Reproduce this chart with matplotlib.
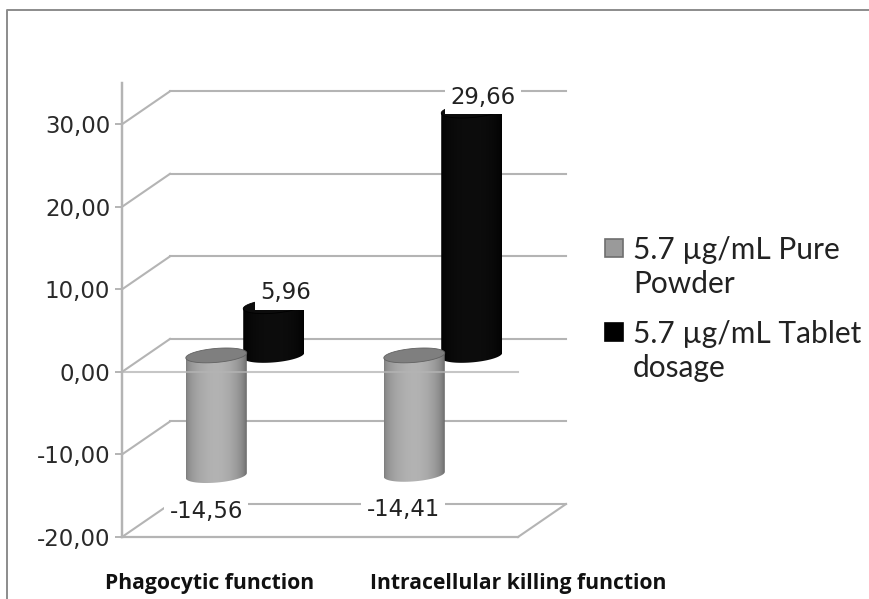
import numpy as np
import matplotlib
matplotlib.use("Agg")
import matplotlib.pyplot as plt
from matplotlib.lines import Line2D
from matplotlib.patches import Polygon, Rectangle
from matplotlib.transforms import Affine2D

categories = ['Phagocytic function', 'Intracellular killing function']
series_names = ['5.7 µg/mL Pure\nPowder', '5.7 µg/mL Tablet\ndosage']
pure_powder = [-14.56, -14.41]
tablet = [5.96, 29.66]
pure_labels = ['-14,56', '-14,41']
tablet_labels = ['5,96', '29,66']
y_ticks = [-20, -10, 0, 10, 20, 30]
y_tick_labels = ['-20,00', '-10,00', '0,00', '10,00', '20,00', '30,00']

W, H = 869, 599
DEPTH = (48, 33)
GRID = '#b4b4b4'


def gradient(left, mid, right):
  # horizontal shading of a cylinder body, a bit darker on the right
  t = np.linspace(0, 1, 128)
  k = np.sin(np.pi * t) ** 0.5
  left, mid, right = np.array(left), np.array(mid), np.array(right)
  return np.array([(left if s < 0.5 else right) * (1 - a) + mid * a for s, a in zip(t, k)])[None, :, :]


def cylinder(ax, x, val, shades, top, zorder):
  # half the depth offset puts the bar in the middle of the floor
  offset = Affine2D().translate(DEPTH[0] / 2, DEPTH[1] / 2)
  tr = ax.transData + offset
  hw = 0.154
  eh = 7 / 8.26
  tilt = 0.3
  t = np.linspace(0, np.pi, 40)
  hi, lo = max(val, 0), min(val, 0)
  # lower half of the ellipse at the bottom, then back along the upper end
  xb = x + hw * np.cos(t[::-1])
  yb = lo - eh * np.sin(t[::-1]) + tilt * np.cos(t[::-1])
  xt = x + hw * np.cos(t)
  yt = hi + tilt * np.cos(t)
  body = Polygon(np.column_stack([np.r_[xb, xt], np.r_[yb, yt]]), closed=True, transform=tr,
                 facecolor='none', edgecolor='none')
  ax.add_patch(body)
  im = ax.imshow(gradient(*shades), extent=(x - hw, x + hw, lo - 2 * eh, hi + 2 * eh),
                 aspect='auto', transform=tr, zorder=zorder, interpolation='bilinear')
  im.set_clip_path(body)
  a = np.linspace(0, 2 * np.pi, 60)
  cap = Polygon(np.column_stack([x + hw * np.cos(a), hi + eh * np.sin(a) + tilt * np.cos(a)]),
                closed=True, transform=tr, facecolor=top, edgecolor=shades[2], lw=0.6, zorder=zorder + 0.1)
  ax.add_patch(cap)


fig = plt.figure(figsize=(W / 100, H / 100), dpi=100, facecolor='white')
ax = fig.add_axes([122 / W, 1 - 537 / H, 396 / W, 454 / H])
ax.set_xlim(-0.5, 1.5)
ax.set_ylim(-20, 35)

# outer chart border
fig.add_artist(Line2D([7 / W, 7 / W, 1], [0, 1 - 10 / H, 1 - 10 / H], color='#8c8c8c', lw=1.4))

for sp in ['top', 'right']:
  ax.spines[sp].set_visible(False)
for sp in ['left', 'bottom']:
  ax.spines[sp].set_color(GRID)
  ax.spines[sp].set_linewidth(1.6)

ax.set_yticks(y_ticks)
ax.set_yticklabels(y_tick_labels, fontsize=16.5, color='#2a2a2a', family='DejaVu Sans')
ax.tick_params(axis='y', length=5, width=1.4, color=GRID, pad=3.5)
ax.set_xticks([])

# back wall and the side wall lines
back = ax.transData + Affine2D().translate(*DEPTH)
for v in y_ticks:
  ax.plot([-0.5, 1.5], [v, v], color=GRID, lw=1.5, transform=back, zorder=1, clip_on=False)
  ax.plot([-0.5, -0.5 + DEPTH[0] / 198], [v, v + DEPTH[1] / 8.26], color=GRID, lw=1.5,
          zorder=1, clip_on=False)
ax.plot([1.5, 1.5 + DEPTH[0] / 198], [-20, -20 + DEPTH[1] / 8.26], color=GRID, lw=1.5,
        zorder=1, clip_on=False)

black = ((0, 0, 0), (0.05, 0.05, 0.05), (0, 0, 0))
grey = ((0.48, 0.48, 0.48), (0.70, 0.70, 0.70), (0.38, 0.38, 0.38))
for i in range(len(categories)):
  cylinder(ax, i + 0.145, tablet[i], black, '#0c0c0c', 3)
  cylinder(ax, i - 0.145, pure_powder[i], grey, '#7f7f7f', 4)

ax.set_xlim(-0.5, 1.5)
ax.set_ylim(-20, 35)

# zero line of the front wall runs over the bars
ax.plot([-0.5, 1.5], [0, 0], color=GRID, lw=1.5, alpha=0.75, zorder=5, clip_on=False)
ax.plot([-0.5, -0.5], [-20, 35], color=GRID, lw=1.6, zorder=5, clip_on=False)

# value labels have a white box which hides the bar top and the grid
box = dict(boxstyle='square,pad=0.24', facecolor='white', edgecolor='none')
tablet_off = [(36, 30), (35, 30)]
pure_off = [(14, -19), (13, -19)]
for i in range(len(categories)):
  ax.annotate(tablet_labels[i], (i + 0.145, tablet[i]), xycoords='data', textcoords='offset pixels',
              xytext=tablet_off[i], ha='center', va='center',
              fontsize=16.4, color='#222222', bbox=box, zorder=6)
  ax.annotate(pure_labels[i], (i - 0.145, pure_powder[i]), xycoords='data', textcoords='offset pixels',
              xytext=pure_off[i], ha='center', va='center',
              fontsize=16.4, color='#222222', bbox=box, zorder=6)

# category labels sit below the floor, not centred on their groups
cat_off = [-11, 99]
for i, c in enumerate(categories):
  ax.annotate(c, (i, -20), xycoords='data', textcoords='offset pixels', xytext=(cat_off[i], -46),
              ha='center', va='center', fontsize=15.2, fontweight='bold', family='Open Sans',
              color='#111111', annotation_clip=False)

# legend swatches line up with the first line of each entry, so it is placed by hand
swatches = [('#9a9a9a', '#6e6e6e', 239, 293), ('#000000', '#000000', 323, 377)]
for name, (fc, ec, top, base) in zip(series_names, swatches):
  fig.add_artist(Rectangle((605 / W, 1 - (top + 18) / H), 18 / W, 18 / H, facecolor=fc, edgecolor=ec,
                           lw=1.2, transform=fig.transFigure))
  fig.text(633 / W, 1 - base / H, name, ha='left', va='baseline', family='Lato', fontsize=21.5,
           color='#222222', linespacing=1.25)

fig.savefig('out.png', dpi=100, facecolor='white')
